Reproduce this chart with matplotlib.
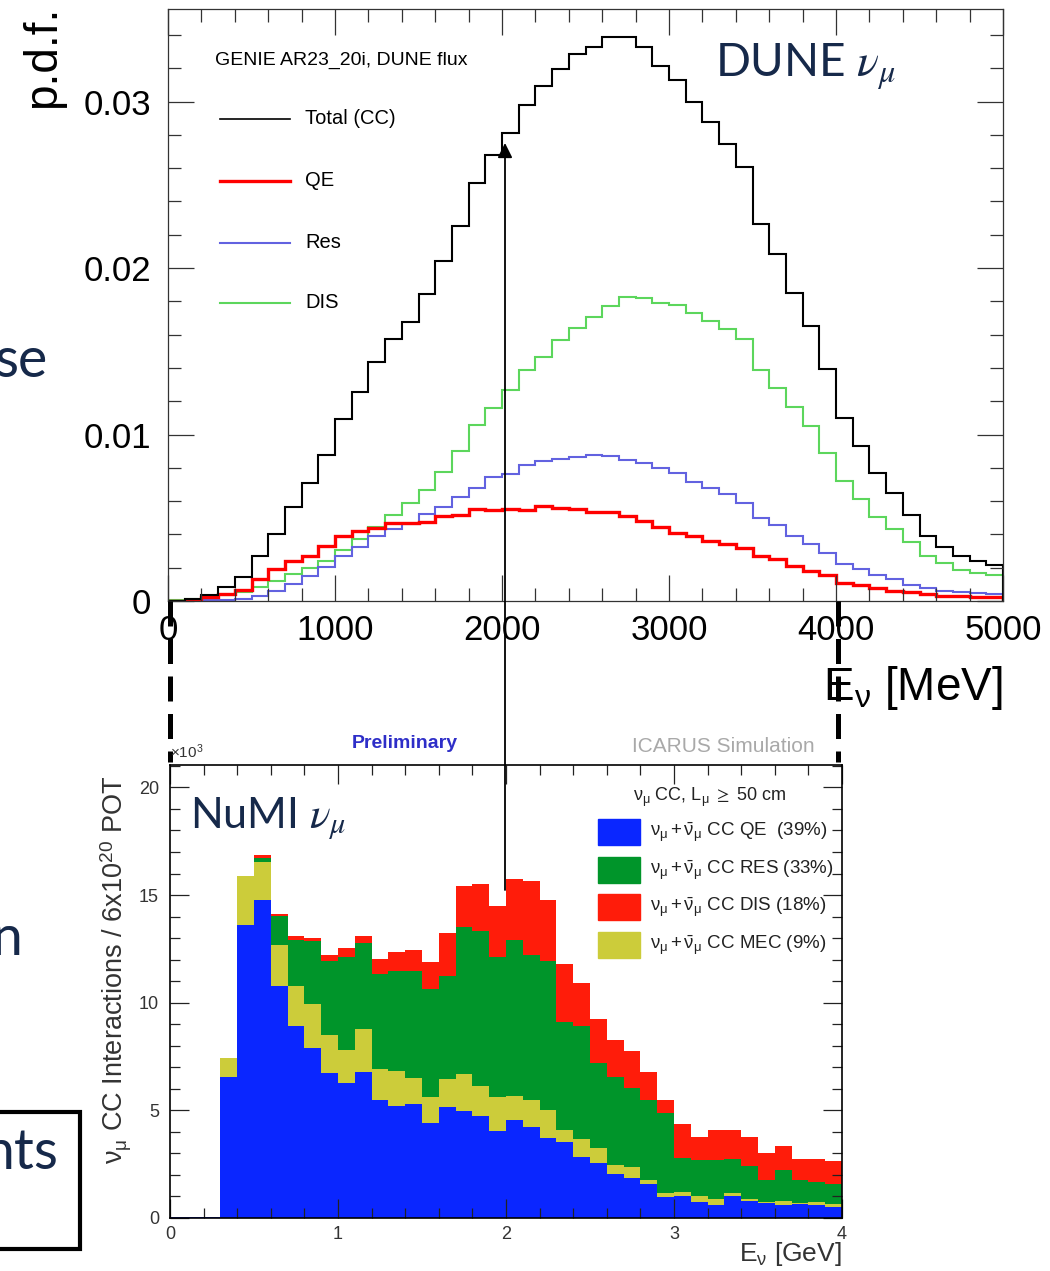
import numpy as np
import matplotlib
matplotlib.use('Agg')
import matplotlib.pyplot as plt
from matplotlib.patches import FancyArrowPatch, Rectangle
from matplotlib.lines import Line2D
from matplotlib.ticker import MultipleLocator

plt.rcParams['font.family'] = ['Liberation Sans', 'DejaVu Sans']
plt.rcParams['mathtext.fontset'] = 'stix'

W, H = 1050, 1271

# --- DUNE (GENIE) p.d.f., 100 MeV bins from 0 to 5000 MeV ---
dune_edges = np.arange(0, 5001, 100)
dune_total = [0.0, 0.0001, 0.00036, 0.00082, 0.00142, 0.0027, 0.0040, 0.00567, 0.00707, 0.00875,
              0.01095, 0.01257, 0.01437, 0.01575, 0.01678, 0.01844, 0.02042, 0.02254, 0.02512, 0.02679,
              0.02809, 0.02977, 0.03095, 0.03193, 0.03283, 0.03329, 0.03385, 0.03389, 0.03325, 0.03213,
              0.03129, 0.02995, 0.02877, 0.02745, 0.02608, 0.02263, 0.02082, 0.01852, 0.01652, 0.01393,
              0.01099, 0.00931, 0.00767, 0.00647, 0.00517, 0.00392, 0.00326, 0.0027, 0.0024, 0.00216]
dune_qe = [0.00002, 0.00002, 0.00026, 0.00042, 0.00068, 0.00134, 0.0019, 0.0024, 0.00272, 0.0033,
           0.0039, 0.00422, 0.00436, 0.00466, 0.0047, 0.00476, 0.0051, 0.00517, 0.00551, 0.00547,
           0.00553, 0.00547, 0.00571, 0.00557, 0.00553, 0.00533, 0.00533, 0.00513, 0.00483, 0.00443,
           0.0041, 0.0039, 0.00362, 0.0034, 0.00316, 0.0027, 0.0025, 0.00212, 0.00182, 0.00154,
           0.0011, 0.00096, 0.00076, 0.00062, 0.00052, 0.00042, 0.00032, 0.00028, 0.00026, 0.00022]
dune_res = [0.0, 0.00002, 0.00005, 0.00008, 0.00012, 0.0003, 0.0006, 0.00102, 0.0015, 0.00206,
            0.0027, 0.00322, 0.00392, 0.00434, 0.0046, 0.00524, 0.00562, 0.00626, 0.0068, 0.00747,
            0.00765, 0.00817, 0.00841, 0.00851, 0.00867, 0.00877, 0.00871, 0.00847, 0.00831, 0.00797,
            0.00767, 0.00717, 0.0068, 0.00641, 0.00587, 0.005, 0.00456, 0.00392, 0.0034, 0.00286,
            0.00222, 0.0019, 0.00156, 0.0013, 0.00096, 0.0008, 0.00062, 0.00054, 0.00046, 0.00042]
dune_dis = [0.00004, 0.0001, 0.00016, 0.00036, 0.00056, 0.00086, 0.0012, 0.00162, 0.002, 0.00242,
            0.00306, 0.00374, 0.00446, 0.00517, 0.00587, 0.00667, 0.00777, 0.00903, 0.01055, 0.01157,
            0.01267, 0.01387, 0.01467, 0.01568, 0.01642, 0.01708, 0.01774, 0.01828, 0.01818, 0.01788,
            0.01778, 0.01728, 0.01684, 0.01632, 0.01574, 0.01387, 0.01279, 0.01163, 0.01051, 0.00891,
            0.00723, 0.00613, 0.00503, 0.00431, 0.00356, 0.0027, 0.00226, 0.00186, 0.00166, 0.00156]

# --- NuMI (ICARUS) stacked counts x10^3, 0.1 GeV bins from 0 to 4 GeV ---
numi_edges = np.linspace(0, 4, 41)
numi_qe = [0.06, 0.06, 0.06, 6.54, 13.63, 14.76, 10.79, 8.9, 7.89, 6.73,
           6.26, 6.76, 5.49, 5.21, 5.3, 4.43, 5.15, 4.99, 4.74, 4.06,
           4.53, 4.23, 3.72, 3.55, 2.85, 2.54, 2.03, 1.85, 1.58, 0.96,
           1.02, 0.76, 0.6, 1.02, 0.81, 0.68, 0.6, 0.65, 0.6, 0.53]
numi_mec = [0, 0, 0, 0.89, 2.25, 1.77, 1.91, 1.89, 2.06, 1.75,
            1.52, 2.02, 1.43, 1.64, 1.2, 1.21, 1.3, 1.71, 1.4, 1.55,
            1.14, 1.26, 1.3, 0.54, 0.81, 0.7, 0.44, 0.54, 0.19, 0.19,
            0.21, 0.26, 0.27, 0.13, 0.06, 0.08, 0.21, 0.06, 0.16, 0.11]
numi_res = [0, 0, 0, 0, 0, 0.2, 1.32, 2.14, 2.9, 3.47,
            4.33, 4.0, 4.43, 4.64, 4.99, 5.0, 4.77, 6.82, 7.18, 6.5,
            7.26, 6.74, 6.93, 5.0, 5.24, 3.98, 4.1, 3.64, 3.72, 3.72,
            1.55, 1.68, 1.83, 1.58, 1.55, 1.01, 1.42, 1.06, 0.93, 0.93]
numi_dis = [0, 0, 0, 0, 0, 0.11, 0.12, 0.19, 0.16, 0.28,
            0.43, 0.31, 0.68, 0.85, 0.98, 1.24, 2.02, 1.89, 2.21, 2.37,
            2.8, 3.4, 2.81, 2.71, 2.01, 2.02, 1.71, 1.71, 1.27, 0.62,
            1.58, 1.08, 1.39, 1.36, 1.36, 1.24, 1.12, 0.96, 1.04, 1.08]

numi_labels = [r'$\mathregular{\nu_\mu+\bar{\nu}_\mu}$ CC QE  (39%)',
               r'$\mathregular{\nu_\mu+\bar{\nu}_\mu}$ CC RES (33%)',
               r'$\mathregular{\nu_\mu+\bar{\nu}_\mu}$ CC DIS (18%)',
               r'$\mathregular{\nu_\mu+\bar{\nu}_\mu}$ CC MEC (9%)']


def fx(x):
    return x / W


def fy(y):
    return 1 - y / H


navy = '#16294a'
slide_font = 'Lato'

fig = plt.figure(figsize=(W / 100, H / 100), dpi=100)

# ---------------- top: DUNE p.d.f. ----------------
ax1 = fig.add_axes([fx(168), fy(601), (1003 - 168) / W, (601 - 9) / H])
ax1.stairs(dune_dis, dune_edges, color='#5cd65c', lw=1.5)
ax1.stairs(dune_res, dune_edges, color='#6262e0', lw=1.5)
ax1.stairs(dune_qe, dune_edges, color='#ff0000', lw=2.4)
ax1.stairs(dune_total, dune_edges, color='black', lw=1.5)
ax1.set_xlim(0, 5000)
ax1.set_ylim(0, 0.03556)
ax1.set_xticks([0, 1000, 2000, 3000, 4000, 5000])
ax1.set_xticklabels(['0', '1000', '2000', '3000', '4000', '5000'])
ax1.set_yticks([0, 0.01, 0.02, 0.03])
ax1.set_yticklabels(['0', '0.01', '0.02', '0.03'])
ax1.xaxis.set_minor_locator(MultipleLocator(200))
ax1.yaxis.set_minor_locator(MultipleLocator(0.002))
ax1.tick_params(which='both', direction='in', top=True, right=True, color='#333333', width=0.9)
ax1.tick_params(which='major', length=19, labelsize=25)
ax1.tick_params(which='minor', length=9.5)
ax1.tick_params(axis='x', pad=9)
ax1.tick_params(axis='y', pad=12)
for s in ax1.spines.values():
    s.set_linewidth(0.9)
    s.set_color('#333333')

fig.text(fx(43), fy(57), 'p.d.f.', rotation=90, fontsize=33, ha='center', va='center')
fig.text(fx(215), fy(60), 'GENIE AR23_20i, DUNE flux', fontsize=14, ha='left', va='center')
leg_rows = [('Total (CC)', 'black', 1.2, 119), ('QE', '#ff0000', 2.4, 181),
            ('Res', '#6262e0', 1.5, 243), ('DIS', '#5cd65c', 1.5, 303)]
for lab, c, lw, yy in leg_rows:
    fig.add_artist(Line2D([fx(220), fx(290)], [fy(yy), fy(yy)], color=c, lw=lw))
    fig.text(fx(305), fy(yy), lab, fontsize=14.5, ha='left', va='center')
fig.text(fx(715), fy(77), r'DUNE $\nu_\mu$', fontsize=33, color=navy, family=slide_font,
         ha='left', va='baseline')
fig.text(fx(1003), fy(700), r'$\mathregular{E_\nu}$ [MeV]', fontsize=33, ha='right', va='baseline')

# ---------------- bottom: NuMI stacked ----------------
ax2 = fig.add_axes([fx(170), fy(1218), (842 - 170) / W, (1218 - 765) / H])
bottom = np.zeros(len(numi_qe))
for vals, c in [(numi_qe, '#0a26ff'), (numi_mec, '#cccc3a'), (numi_res, '#00952a'), (numi_dis, '#ff1c0a')]:
    top = bottom + np.array(vals)
    ax2.stairs(top, numi_edges, baseline=bottom, fill=True, color=c, lw=0)
    bottom = top
ax2.set_xlim(0, 4)
ax2.set_ylim(0, 21.04)
ax2.set_xticks([0, 1, 2, 3, 4])
ax2.set_yticks([0, 5, 10, 15, 20])
ax2.xaxis.set_minor_locator(MultipleLocator(0.2))
ax2.yaxis.set_minor_locator(MultipleLocator(1))
ax2.tick_params(which='both', direction='in', top=True, right=True, width=0.9, color='#222222',
                labelsize=13, labelcolor='#333333')
ax2.tick_params(which='major', length=14)
ax2.tick_params(which='minor', length=7)
ax2.tick_params(axis='y', pad=8)
ax2.tick_params(axis='x', pad=6)
for s in ax2.spines.values():
    s.set_linewidth(1.2)

fig.text(fx(405), fy(743), 'Preliminary', fontsize=14, fontweight='bold', color='#2e2ec8',
         ha='center', va='center')
fig.text(fx(723), fy(747), 'ICARUS Simulation', fontsize=15, color='#a9a9a9', ha='center', va='center')
fig.text(fx(170), fy(752), r'$\mathregular{\times 10^{3}}$', fontsize=11, color='#333333',
         ha='left', va='center')
fig.text(fx(116), fy(970), r'$\mathregular{\nu_\mu}$ CC Interactions / 6x10$^{\mathregular{20}}$ POT',
         rotation=90, fontsize=19.5, color='#333333', ha='center', va='center')
fig.text(fx(842), fy(1254), r'$\mathregular{E_\nu}$ [GeV]', fontsize=19, color='#333333',
         ha='right', va='center')
fig.text(fx(190), fy(828), r'NuMI $\nu_\mu$', fontsize=31, color=navy, family=slide_font,
         ha='left', va='baseline')

fig.text(fx(710), fy(797), r'$\mathregular{\nu_\mu}$ CC, $\mathregular{L_\mu}$ $\geq$ 50 cm',
         fontsize=13, color='#222222', ha='center', va='center')
leg_colors = ['#0a26ff', '#00952a', '#ff1c0a', '#cccc3a']
for i, (lab, c) in enumerate(zip(numi_labels, leg_colors)):
    yy = 832 + i * 37.7
    fig.add_artist(Rectangle((fx(598), fy(yy + 13)), 42 / W, 26 / H, color=c, transform=fig.transFigure))
    fig.text(fx(650), fy(yy), lab, fontsize=13.5, color='#222222', ha='left', va='center')

# vertical arrow linking the two energy axes at 2 GeV
arrow = FancyArrowPatch((fx(505), fy(890)), (fx(505), fy(143)), transform=fig.transFigure,
                        arrowstyle='-|>', mutation_scale=22, lw=1.3, color='black',
                        shrinkA=0, shrinkB=0)
fig.add_artist(arrow)

# dashed guides for the 0-4 GeV range
for xx in [170, 838]:
    fig.add_artist(Line2D([fx(xx), fx(xx)], [fy(601), fy(762)], color='black', lw=3.6,
                          linestyle=(0, (5, 2.5))))

# slide text fragments on the left
fig.text(fx(47), fy(377), 'se', fontsize=40, color=navy, family=slide_font, ha='right', va='baseline')
fig.text(fx(22), fy(955), 'n', fontsize=40, color=navy, family=slide_font, ha='right', va='baseline')
fig.add_artist(Rectangle((fx(-20), fy(1249)), 100 / W, 137 / H, fill=False, lw=3,
                         edgecolor='black', transform=fig.transFigure))
fig.text(fx(58), fy(1169), 'nts', fontsize=40, color=navy, family=slide_font, ha='right', va='baseline')

fig.savefig('out.png', dpi=100)
